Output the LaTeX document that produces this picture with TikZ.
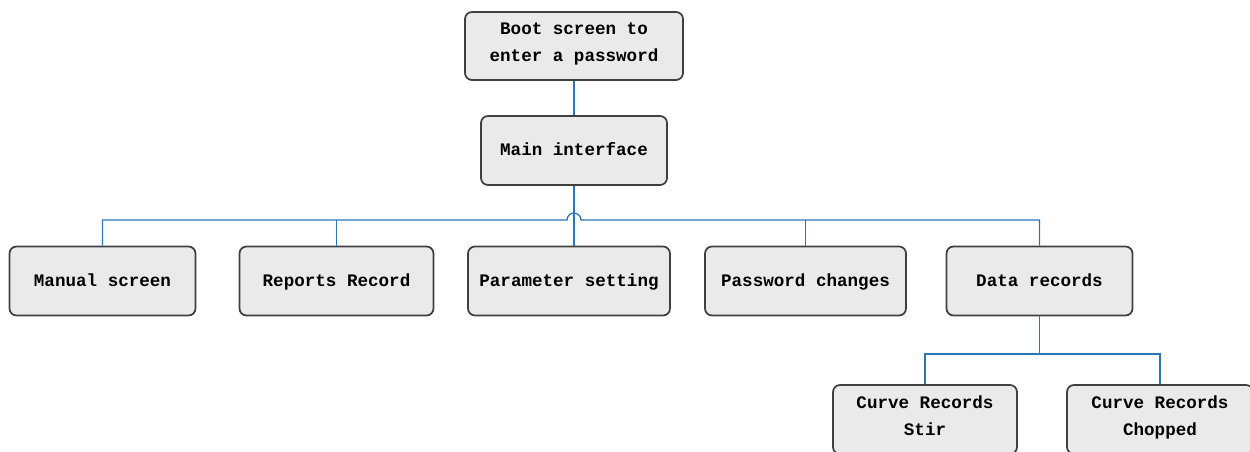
\documentclass[tikz,border=0pt]{standalone}
\usepackage{fontspec}
\setmainfont{Liberation Mono}
\definecolor{linkblue}{RGB}{46,117,182}
\definecolor{boxfill}{RGB}{234,234,234}
\begin{document}
\begin{tikzpicture}[every node/.style={font=\fontsize{10}{15.5}\selectfont\bfseries}]
  \tikzstyle{screen}=[draw=black!75,fill=boxfill,line width=1pt,rounded corners=4pt,minimum width=3.72cm,minimum height=1.38cm,align=center,inner sep=2pt,execute at begin node=\strut,execute at end node=\strut]
  \tikzstyle{link}=[draw=linkblue,line width=0.75pt]
  \useasboundingbox (0,0) rectangle (25,9.04);
  % Start and main screen
  \node[screen,minimum width=4.36cm,minimum height=1.36cm] (boot) at (11.48,8.12) {Boot screen to\\enter a password};
  \node[screen] (main) at (11.48,6.03) {Main interface};
  % Screens under the main interface
  \node[screen] (manual) at (2.05,3.42) {Manual screen};
  \node[screen,minimum width=3.88cm] (reports) at (6.73,3.42) {Reports Record};
  \node[screen,minimum width=4.04cm] (param) at (11.38,3.42) {Parameter setting};
  \node[screen,minimum width=4.02cm] (passwd) at (16.11,3.42) {Password changes};
  \node[screen] (data) at (20.79,3.42) {Data records};
  % Curve records under data records
  \node[screen,minimum width=3.68cm] (stir) at (18.5,0.65) {Curve Records\\Stir};
  \node[screen] (chopped) at (23.2,0.65) {Curve Records\\Chopped};
  \coordinate (bus) at (11.48,4.64);
  \coordinate (dbus) at (data.south |- 0,1.96);
  \draw[link] (boot) -- (main);
  \draw[link] (main.south) -- (main.south |- param.north);
  % bus jumps over the straight line down to param
  \draw[link] (manual.north) |- ([xshift=-0.14cm]bus) arc[start angle=180,end angle=0,radius=0.14cm] -| (data.north);
  \draw[link] (reports.north) -- (reports.north |- bus);
  \draw[link] (passwd.north) -- (passwd.north |- bus);
  \draw[link] (data.south) -- (dbus);
  \draw[link] (stir.north) |- (dbus) -| (chopped.north);
\end{tikzpicture}
\end{document}
